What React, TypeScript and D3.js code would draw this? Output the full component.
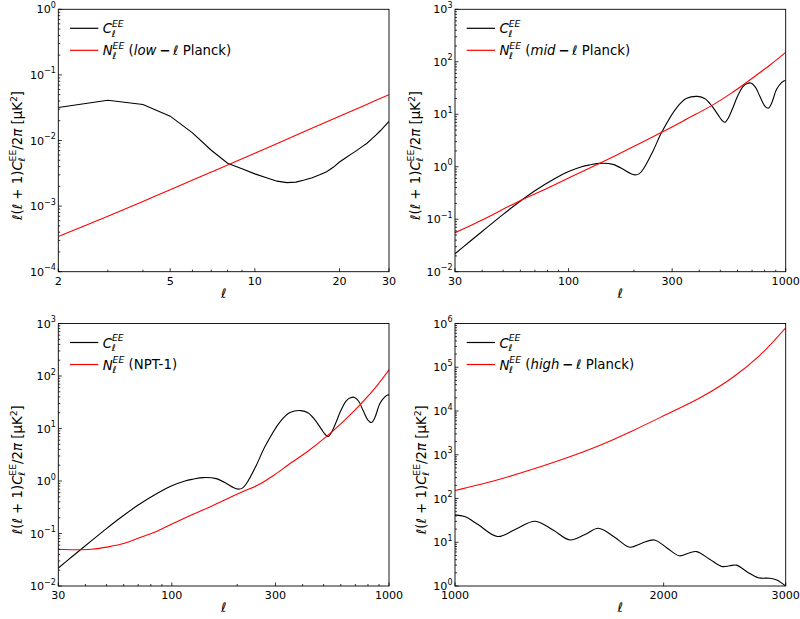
import React from "react";
import * as d3 from "d3";

// ---------- data ----------
// Panel 1 (low-l): C_l^EE at integer multipoles
const clLowEll = [2, 3, 4, 5, 6, 7, 8, 9, 10, 11, 12, 13, 14, 15, 16, 17, 18, 19, 20, 21, 22, 23, 24, 25, 26, 27, 28, 29, 30];
const clLowVal = [0.0318, 0.041, 0.0353, 0.0235, 0.0131, 0.0071, 0.0045, 0.0037, 0.0031, 0.0027, 0.0024, 0.00228, 0.00232, 0.0025, 0.0027, 0.003, 0.00335, 0.0039, 0.0047, 0.0054, 0.0062, 0.007, 0.008, 0.009, 0.0105, 0.0122, 0.0142, 0.0167, 0.0195];
const nlLowEll = [2, 3, 4, 5, 7, 10, 15, 20, 25, 30];
const nlLowVal = [3.45e-4, 7.0e-4, 1.18e-3, 1.78e-3, 3.3e-3, 6.4e-3, 1.37e-2, 2.35e-2, 3.55e-2, 5.0e-2];

// Panels 2 & 3: C_l^EE for 30..1000
const clMidEll = [30, 35, 42.7, 50, 58.6, 70, 86.6, 100, 115, 125, 139.6, 160, 180, 192, 202, 212, 221, 245, 268.5, 315, 350, 393, 425, 456, 490, 510, 525, 545, 570, 600, 637, 665, 691, 725, 759, 800, 831, 860, 908, 957, 985, 1000];
const clMidVal = [0.022, 0.0372, 0.0731, 0.124, 0.206, 0.348, 0.595, 0.81, 1.0, 1.08, 1.16, 1.11, 0.88, 0.75, 0.7, 0.74, 0.905, 2.0, 4.53, 13.4, 20.1, 21.9, 19.8, 14.6, 9.5, 7.6, 7.03, 8.6, 13, 22, 34, 38.5, 39.4, 33, 22.3, 14.5, 13.0, 16, 29.9, 40, 43.4, 43.6];
// Panel 2 noise (mid-l Planck)
const nlMidEll = [30, 40, 58.6, 80, 100, 140, 192, 268.5, 350, 456, 560, 684, 850, 1000];
const nlMidVal = [0.0553, 0.097, 0.216, 0.39, 0.61, 1.18, 2.24, 4.53, 8.1, 14.6, 25, 45, 88, 151];
// Panel 3 noise (NPT-1)
const nlNptEll = [30, 36, 42.7, 50, 60.6, 72, 86.3, 103, 123, 147, 175, 210, 249, 300, 344, 420, 516, 620, 735, 860, 1000];
const nlNptVal = [0.05, 0.049, 0.05, 0.055, 0.065, 0.085, 0.113, 0.16, 0.224, 0.31, 0.433, 0.62, 0.835, 1.35, 2.04, 3.6, 7.06, 14, 28.2, 58, 131];

// Panel 4 (high-l)
const clHighEll = [1000, 1033, 1081, 1152, 1225, 1305, 1385, 1465, 1540, 1610, 1700, 1788, 1860, 1939, 2020, 2107, 2170, 2232, 2330, 2426, 2490, 2548, 2640, 2738, 2845, 2912, 3000];
const clHighVal = [42.3, 38.6, 25, 13.5, 20.2, 30.3, 19, 11.3, 15, 20.9, 13, 7.7, 9.5, 11.3, 7.5, 4.9, 5.6, 6.1, 4.1, 2.8, 2.9, 3.0, 2.1, 1.55, 1.5, 1.37, 1.0];
const nlHighEll = [1000, 1150, 1297, 1450, 1619, 1808, 2020, 2257, 2521, 2755, 3000];
const nlHighVal = [152, 265, 470, 850, 1650, 3600, 8400, 20000, 60000, 190000, 800000];

// tick labels
const lowXTicks = [2, 5, 10, 20, 30];
const midXTicks = [30, 100, 300, 1000];
const highXTicks = [1000, 2000, 3000];

const legendTags = ["low", "mid", "NPT-1", "high"];

// ---------- rendering ----------
const FONT = "'DejaVu Sans', sans-serif";
const TICK_FS = 11.1;
const LAB_FS = 13.3;
const SUB_FS = 9.3;
const smooth = d3.curveCatmullRom.alpha(0.5);

type Box = { l: number; r: number; t: number; b: number };

function NoiseTag({ tag }: { tag: string }) {
  if (tag === "NPT-1") return <tspan dy={6}>{" (NPT-1)"}</tspan>;
  return (
    <>
      <tspan dy={6}>{" ("}</tspan>
      <tspan fontStyle="italic">{tag}</tspan>
      <tspan fontWeight="bold">{"\u2009\u2212\u2009"}</tspan>
      <tspan fontStyle="italic">ℓ</tspan>
      <tspan>{" Planck)"}</tspan>
    </>
  );
}

function Legend({ box, tag }: { box: Box; tag: string }) {
  const x0 = box.l + 11.7;
  const x1 = box.l + 40;
  const tx = box.l + 44.4;
  const y1 = box.t + 19;
  const y2 = box.t + 41;
  return (
    <g fontFamily={FONT} fontSize={LAB_FS}>
      <line x1={x0} x2={x1} y1={y1} y2={y1} stroke="#000" strokeWidth={1.2} />
      <line x1={x0} x2={x1} y1={y2} y2={y2} stroke="#ff0000" strokeWidth={1.2} />
      <text x={tx} y={y1 + 5}>
        <tspan fontStyle="italic">C</tspan>
        <tspan fontStyle="italic" fontSize={SUB_FS} dy={3.5}>ℓ</tspan>
        <tspan fontStyle="italic" fontSize={SUB_FS} dx={-3.9} dy={-10}>EE</tspan>
      </text>
      <text x={tx} y={y2 + 5}>
        <tspan fontStyle="italic">N</tspan>
        <tspan fontStyle="italic" fontSize={SUB_FS} dy={3.5}>ℓ</tspan>
        <tspan fontStyle="italic" fontSize={SUB_FS} dx={-3.9} dy={-10}>EE</tspan>
        <NoiseTag tag={tag} />
      </text>
    </g>
  );
}

function YLabel({ x, y }: { x: number; y: number }) {
  return (
    <text
      transform={`translate(${x},${y}) rotate(-90)`}
      textAnchor="middle"
      fontFamily={FONT}
      fontSize={LAB_FS}
    >
      <tspan fontStyle="italic">ℓ</tspan>
      <tspan>(</tspan>
      <tspan fontStyle="italic">ℓ</tspan>
      <tspan>{" + 1)"}</tspan>
      <tspan fontStyle="italic">C</tspan>
      <tspan fontStyle="italic" fontSize={SUB_FS} dy={3}>ℓ</tspan>
      <tspan fontSize={SUB_FS} dx={-3.9} dy={-9}>EE</tspan>
      <tspan dy={6}>/2</tspan>
      <tspan fontStyle="italic">π</tspan>
      <tspan>{" [μK"}</tspan>
      <tspan fontSize={SUB_FS} dy={-5}>2</tspan>
      <tspan dy={5}>]</tspan>
    </text>
  );
}

type PanelProps = {
  id: string;
  box: Box;
  xDomain: [number, number];
  yExp: [number, number];
  xTicks: number[];
  cl: [number[], number[]];
  nl: [number[], number[]];
  clCurve: d3.CurveFactory;
  nlCurve: d3.CurveFactory;
  tag: string;
  ylabOffset: number;
};

function Panel(p: PanelProps) {
  const { box } = p;
  const x = d3.scaleLog().domain(p.xDomain).range([box.l, box.r]);
  const y = d3.scaleLog().domain([Math.pow(10, p.yExp[0]), Math.pow(10, p.yExp[1])]).range([box.b, box.t]);

  const mkLine = (ell: number[], val: number[], curve: d3.CurveFactory) =>
    d3
      .line<number>()
      .x((i) => x(ell[i]))
      .y((i) => y(val[i]))
      .curve(curve)(d3.range(ell.length)) || "";

  const xMinor: number[] = [];
  const k0 = Math.floor(Math.log10(p.xDomain[0]));
  const k1 = Math.ceil(Math.log10(p.xDomain[1]));
  for (let k = k0; k <= k1; k++) {
    for (let m = 1; m <= 9; m++) {
      const v = m * Math.pow(10, k);
      if (v >= p.xDomain[0] * 0.999 && v <= p.xDomain[1] * 1.001 && !p.xTicks.some((t) => Math.abs(t - v) < 1e-9 * v)) xMinor.push(v);
    }
  }
  const yMajor = d3.range(p.yExp[0], p.yExp[1] + 1);
  const yMinor: number[] = [];
  for (let e = p.yExp[0]; e < p.yExp[1]; e++) for (let m = 2; m <= 9; m++) yMinor.push(m * Math.pow(10, e));

  const fmt = (e: number) => (e < 0 ? "\u2212" + Math.abs(e) : String(e));

  return (
    <g>
      <defs>
        <clipPath id={p.id}>
          <rect x={box.l} y={box.t} width={box.r - box.l} height={box.b - box.t} />
        </clipPath>
      </defs>
      <g clipPath={`url(#${p.id})`} fill="none">
        <path d={mkLine(p.cl[0], p.cl[1], p.clCurve)} stroke="#000" strokeWidth={1.1} />
        <path d={mkLine(p.nl[0], p.nl[1], p.nlCurve)} stroke="#ff0000" strokeWidth={1.1} />
      </g>
      <g stroke="#000" strokeWidth={0.8}>
        {p.xTicks.map((t) => (
          <line key={"xM" + t} x1={x(t)} x2={x(t)} y1={box.b} y2={box.b - 3.5} />
        ))}
        {xMinor.map((t) => (
          <line key={"xm" + t} x1={x(t)} x2={x(t)} y1={box.b} y2={box.b - 2} />
        ))}
        {yMajor.map((e) => (
          <line key={"yM" + e} x1={box.l} x2={box.l + 3.5} y1={y(Math.pow(10, e))} y2={y(Math.pow(10, e))} />
        ))}
        {yMinor.map((v, i) => (
          <line key={"ym" + i} x1={box.l} x2={box.l + 2} y1={y(v)} y2={y(v)} />
        ))}
      </g>
      <rect x={box.l} y={box.t} width={box.r - box.l} height={box.b - box.t} fill="none" stroke="#000" strokeWidth={0.9} />
      <g fontFamily={FONT} fontSize={TICK_FS} fill="#000">
        {p.xTicks.map((t) => (
          <text key={"xl" + t} x={x(t)} y={box.b + 13} textAnchor="middle">
            {String(t)}
          </text>
        ))}
        {yMajor.map((e) => (
          <text key={"yl" + e} x={box.l - 2.5} y={y(Math.pow(10, e)) + 4} textAnchor="end">
            10
            <tspan fontSize={8} dy={-5.5}>{fmt(e)}</tspan>
          </text>
        ))}
      </g>
      <text x={(box.l + box.r) / 2} y={box.b + 26} textAnchor="middle" fontFamily={FONT} fontSize={LAB_FS} fontStyle="italic">
        ℓ
      </text>
      <YLabel x={box.l - p.ylabOffset} y={(box.t + box.b) / 2 + 15} />
      <Legend box={box} tag={p.tag} />
    </g>
  );
}

export default function App() {
  const b1: Box = { l: 58.3, r: 389, t: 9.3, b: 271.7 };
  const b2: Box = { l: 455, r: 785.7, t: 9.3, b: 271.7 };
  const b3: Box = { l: 58.3, r: 389, t: 323.5, b: 586 };
  const b4: Box = { l: 455, r: 785.7, t: 323.5, b: 586 };
  return (
    <svg width={800} height={619} style={{ position: "absolute", left: 0, top: 0, background: "#fff" }}>
      <rect x={0} y={0} width={800} height={619} fill="#fff" />
      <Panel id="c1" box={b1} xDomain={[2, 30]} yExp={[-4, 0]} xTicks={lowXTicks} cl={[clLowEll, clLowVal]} nl={[nlLowEll, nlLowVal]} clCurve={d3.curveLinear} nlCurve={smooth} tag={legendTags[0]} ylabOffset={36} />
      <Panel id="c2" box={b2} xDomain={[30, 1000]} yExp={[-2, 3]} xTicks={midXTicks} cl={[clMidEll, clMidVal]} nl={[nlMidEll, nlMidVal]} clCurve={smooth} nlCurve={smooth} tag={legendTags[1]} ylabOffset={35.5} />
      <Panel id="c3" box={b3} xDomain={[30, 1000]} yExp={[-2, 3]} xTicks={midXTicks} cl={[clMidEll, clMidVal]} nl={[nlNptEll, nlNptVal]} clCurve={smooth} nlCurve={smooth} tag={legendTags[2]} ylabOffset={36} />
      <Panel id="c4" box={b4} xDomain={[1000, 3000]} yExp={[0, 6]} xTicks={highXTicks} cl={[clHighEll, clHighVal]} nl={[nlHighEll, nlHighVal]} clCurve={smooth} nlCurve={smooth} tag={legendTags[3]} ylabOffset={29} />
    </svg>
  );
}
